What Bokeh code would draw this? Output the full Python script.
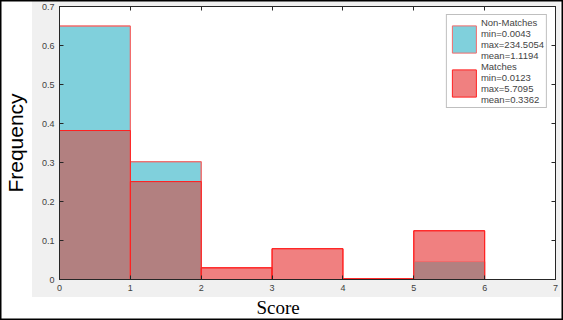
from bokeh.plotting import figure
from bokeh.models import (ColumnDataSource, LinearAxis, Range1d, FixedTicker,
                          Legend, LegendItem, Title)
from bokeh.embed import file_html
from bokeh.resources import INLINE

# ---- data ----
bin_left = [0, 1, 2, 3, 4, 5]
bin_right = [1, 2, 3, 4, 5, 6]
non_matches = [0.65, 0.302, 0.0, 0.0, 0.001, 0.046]
matches = [0.382, 0.251, 0.030, 0.079, 0.002, 0.125]
x_ticks = [0, 1, 2, 3, 4, 5, 6, 7]
x_tick_labels = ["0", "1", "2", "3", "4", "5", "6", "7"]
y_ticks = [0, 0.1, 0.2, 0.3, 0.4, 0.5, 0.6, 0.7]
y_tick_labels = ["0", "0.1", "0.2", "0.3", "0.4", "0.5", "0.6", "0.7"]
label_non = "Non-Matches\nmin=0.0043\nmax=234.5054\nmean=1.1194"
label_match = "Matches\nmin=0.0123\nmax=5.7095\nmean=0.3362"

zeros = [0] * len(bin_left)
overlap = [min(a, b) for a, b in zip(non_matches, matches)]
src_non = ColumnDataSource(dict(left=bin_left, right=bin_right, top=non_matches, bottom=zeros))
src_match = ColumnDataSource(dict(left=bin_left, right=bin_right, top=matches, bottom=zeros))
src_both = ColumnDataSource(dict(left=bin_left, right=bin_right, top=overlap, bottom=zeros))

p = figure(width=563, height=320, output_backend="svg", toolbar_location=None,
           x_range=Range1d(0, 7), y_range=Range1d(0, 0.7),
           min_border_left=58, min_border_right=8, min_border_top=6,
           min_border_bottom=41, background_fill_color="white",
           border_fill_color=None, outline_line_color="#262626")
p.grid.visible = False
# MATLAB-like gray figure panel + outer black frame, drawn behind the transparent canvas
p.styles = {
    "background": "linear-gradient(#f0f0f0, #f0f0f0) 32px 0px / 528px 297px no-repeat, white",
    "box-shadow": "inset 0 0 0 1.5px black",
}

r1 = p.quad(left="left", right="right", top="top", bottom="bottom", source=src_non,
            fill_color="#80d0dc", line_color="#f26a6a", line_width=1)
r2 = p.quad(left="left", right="right", top="top", bottom="bottom", source=src_match,
            fill_color="#f08080", line_color="#ff2020", line_width=1)
p.quad(left="left", right="right", top="top", bottom="bottom", source=src_both,
       fill_color="#b28080", line_color=None)
# edges on top
p.quad(left="left", right="right", top="top", bottom="bottom", source=src_non,
       fill_alpha=0, line_color="#f26a6a", line_width=1)
p.quad(left="left", right="right", top="top", bottom="bottom", source=src_match,
       fill_alpha=0, line_color="#ff2020", line_width=1)

font = "Liberation Sans"
for ax in (p.xaxis[0], p.yaxis[0]):
    ax.major_tick_in = 4
    ax.major_tick_out = 0
    ax.minor_tick_line_color = None
    ax.axis_line_color = "#262626"
    ax.major_tick_line_color = "#262626"
    ax.major_label_text_font = font
    ax.major_label_text_font_size = "9px"
    ax.major_label_text_color = "#404040"
    ax.major_label_standoff = 5

p.xaxis[0].ticker = FixedTicker(ticks=x_ticks)
p.xaxis[0].major_label_overrides = {t: l for t, l in zip(x_ticks, x_tick_labels)}
p.yaxis[0].ticker = FixedTicker(ticks=y_ticks)
p.yaxis[0].major_label_overrides = {t: l for t, l in zip(y_ticks, y_tick_labels)}

p.yaxis[0].axis_label = "Frequency"
p.yaxis[0].axis_label_text_font = font
p.yaxis[0].axis_label_text_font_size = "21px"
p.yaxis[0].axis_label_text_font_style = "normal"
p.yaxis[0].axis_label_text_color = "black"
p.yaxis[0].axis_label_standoff = 12

# top / right box axes with inward ticks, no labels
top_ax = LinearAxis(ticker=FixedTicker(ticks=x_ticks), major_tick_in=4, major_tick_out=0,
                    minor_tick_line_color=None, major_label_standoff=0,
                    major_label_overrides={t: "" for t in x_ticks},
                    axis_line_color="#262626", major_tick_line_color="#262626")
right_ax = LinearAxis(ticker=FixedTicker(ticks=y_ticks), major_tick_in=4, major_tick_out=0,
                      minor_tick_line_color=None, major_label_standoff=0,
                      major_label_overrides={t: "" for t in y_ticks},
                      axis_line_color="#262626", major_tick_line_color="#262626")
p.add_layout(top_ax, "above")
p.add_layout(right_ax, "right")

p.add_layout(Title(text="Score", align="left", offset=197, standoff=3,
                   text_font="Liberation Serif", text_font_size="19px",
                   text_font_style="normal", text_color="black"), "below")

legend = Legend(items=[LegendItem(label=label_non, renderers=[r1]),
                       LegendItem(label=label_match, renderers=[r2])],
                location="top_right", margin=8, padding=2, spacing=0,
                glyph_width=30, glyph_height=34, label_standoff=2,
                label_text_font=font, label_text_font_size="9.5px",
                label_text_line_height=1.13, label_height=43,
                border_line_color="#7f7f7f", border_line_width=1,
                background_fill_color="white", background_fill_alpha=1)
p.add_layout(legend)

open("out.html", "w").write(file_html(p, INLINE))
